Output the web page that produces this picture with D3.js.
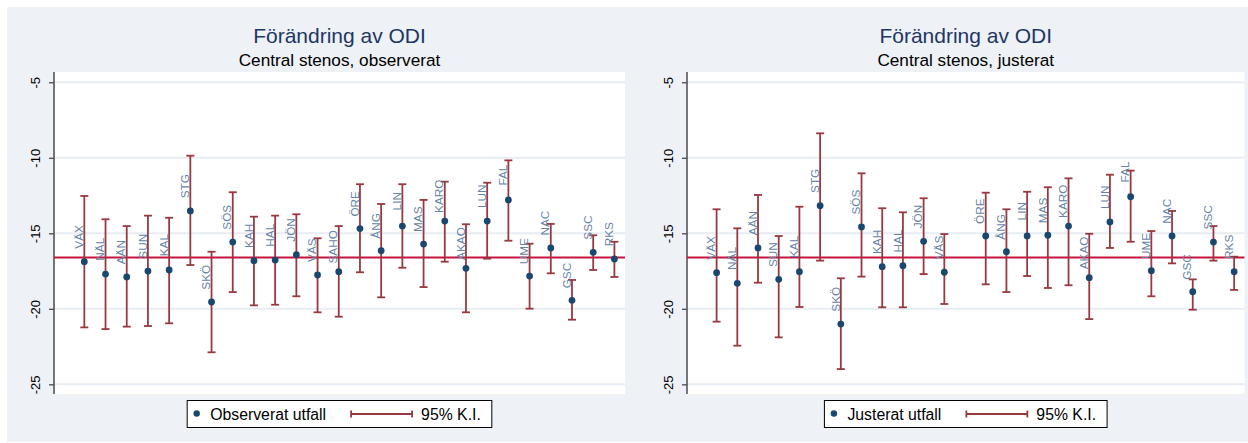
<!DOCTYPE html>
<html>
<head>
<meta charset="utf-8">
<script src="https://cdn.jsdelivr.net/npm/d3@7"></script>
<style>
  html, body { margin: 0; padding: 0; background: #ffffff; }
  svg { display: block; font-family: "Liberation Sans", Arial, sans-serif; }
</style>
</head>
<body>
<svg id="chart" width="1248" height="443"></svg>
<script>
// Units (sjukhus) along the x axis
const categories = ["VÄX","NÄL","AÄN","SUN","KAL","STG","SKÖ","SÖS","KAH","HAL","JÖN","VÄS","SAHO",
  "ÖRE","ÅNG","LIN","MAS","KARO","AKAO","LUN","FAL","UME","NAC","GSC","SSC","RKS"];

// Observerat utfall with 95% K.I.
const observed     = [-16.88,-17.70,-17.89,-17.50,-17.43,-13.52,-19.55,-15.58,-16.81,-16.77,-16.42,-17.76,-17.54,
  -14.69,-16.15,-14.52,-15.71,-14.19,-17.32,-14.19,-12.79,-17.83,-15.97,-19.44,-16.26,-16.70];
const observedLow  = [-21.23,-21.34,-21.18,-21.14,-20.96,-17.10,-22.88,-18.89,-19.77,-19.73,-19.17,-20.23,-20.52,
  -17.58,-19.24,-17.28,-18.56,-16.88,-20.23,-16.68,-15.49,-19.99,-17.65,-20.72,-17.43,-17.89];
const observedHigh = [-12.53,-14.07,-14.52,-13.83,-13.97,-9.86,-16.22,-12.28,-13.90,-13.83,-13.74,-15.33,-14.52,
  -11.75,-13.06,-11.75,-12.79,-11.58,-14.40,-11.65,-10.17,-15.69,-14.38,-18.09,-15.13,-15.56];

// Justerat utfall with 95% K.I. (SAHO saknas)
const adjusted     = [-17.61,-18.31,-15.97,-18.05,-17.54,-13.17,-21.01,-14.58,-17.21,-17.15,-15.53,-17.58,null,
  -15.18,-16.22,-15.18,-15.13,-14.52,-17.94,-14.25,-12.58,-17.48,-15.18,-18.87,-15.58,-17.54];
const adjustedLow  = [-20.85,-22.44,-18.27,-21.89,-19.88,-16.81,-23.99,-17.87,-19.90,-19.90,-17.70,-19.68,null,
  -18.38,-18.89,-17.83,-18.62,-18.44,-20.68,-15.97,-15.56,-19.17,-16.99,-20.06,-16.81,-18.75];
const adjustedHigh = [-13.41,-14.67,-12.46,-15.18,-13.24,-8.38,-17.98,-11.03,-13.34,-13.61,-12.68,-15.05,null,
  -12.31,-13.41,-12.25,-11.95,-11.36,-15.03,-11.12,-10.85,-14.85,-13.52,-18.05,-14.52,-16.55];

// Riksgenomsnitt (reference line)
const referenceValue = -16.6;

const yTicks = [-5, -10, -15, -20, -25];

const COLORS = {
  background: "#eef1f6",
  grid: "#e7edf3",
  axis: "#4a4a4a",
  marker: "#1a476f",
  ci: "#99393f",
  ref: "#c8143c",
  label: "#6384a8",
  title: "#1e3764"
};

const svg = d3.select("#chart");

// outer graph background
svg.append("rect")
  .attr("x", 7).attr("y", 7)
  .attr("width", 1241).attr("height", 435)
  .attr("fill", COLORS.background);

function drawPanel(opts) {
  const { left, right, top, bottom, title, subtitle, values, low, high, legendLabel } = opts;
  const g = svg.append("g");

  const x = d3.scaleLinear().domain([-0.43, 26.5]).range([left, right]);
  const y = d3.scaleLinear().domain([-25.64, -4.32]).range([bottom, top]);

  // plot region
  g.append("rect")
    .attr("x", left).attr("y", top)
    .attr("width", right - left).attr("height", bottom - top)
    .attr("fill", "#ffffff");

  // grid lines
  g.append("g").selectAll("line").data(yTicks).join("line")
    .attr("x1", left).attr("x2", right)
    .attr("y1", d => y(d)).attr("y2", d => y(d))
    .attr("stroke", COLORS.grid).attr("stroke-width", 2);

  // y axis
  const axis = d3.axisLeft(y).tickValues(yTicks).tickSize(5).tickPadding(0).tickFormat(d3.format("d"));
  const ax = g.append("g").attr("transform", `translate(${left},0)`).call(axis);
  ax.select(".domain").remove();
  ax.selectAll(".tick line").attr("stroke", COLORS.axis).attr("stroke-width", 1.3);
  ax.selectAll(".tick text")
    .attr("x", 0).attr("y", 0).attr("dy", null)
    .attr("transform", "translate(-14.5,0) rotate(-90)")
    .attr("text-anchor", "middle")
    .attr("fill", "#000")
    .style("font-size", "13px")
    .style("font-family", "'Liberation Sans', Arial, sans-serif")
    .text(d => String(d));
  g.append("line")
    .attr("x1", left).attr("x2", left)
    .attr("y1", top).attr("y2", bottom)
    .attr("stroke", COLORS.axis).attr("stroke-width", 1.5);

  // titles
  const cx = (left + right) / 2;
  g.append("text")
    .attr("x", cx).attr("y", 43.3)
    .attr("text-anchor", "middle")
    .attr("fill", COLORS.title)
    .style("font-size", "21px")
    .text(title);
  g.append("text")
    .attr("x", cx).attr("y", 65.5)
    .attr("text-anchor", "middle")
    .attr("fill", "#000")
    .style("font-size", "17.2px")
    .text(subtitle);

  const rows = categories.map((c, i) => ({
    name: c, pos: i + 1, v: values[i], lo: low[i], hi: high[i]
  })).filter(d => d.v !== null);

  // reference line
  g.append("line")
    .attr("x1", left).attr("x2", right)
    .attr("y1", y(referenceValue)).attr("y2", y(referenceValue))
    .attr("stroke", COLORS.ref).attr("stroke-width", 2);

  // confidence intervals
  const capW = 4;
  const ci = g.append("g").attr("stroke", COLORS.ci).attr("stroke-width", 1.8).attr("fill", "none");
  ci.selectAll("line.v").data(rows).join("line").attr("class", "v")
    .attr("x1", d => x(d.pos)).attr("x2", d => x(d.pos))
    .attr("y1", d => y(d.lo)).attr("y2", d => y(d.hi));
  ci.selectAll("line.h").data(rows).join("line").attr("class", "h")
    .attr("x1", d => x(d.pos) - capW).attr("x2", d => x(d.pos) + capW)
    .attr("y1", d => y(d.hi)).attr("y2", d => y(d.hi));
  ci.selectAll("line.l").data(rows).join("line").attr("class", "l")
    .attr("x1", d => x(d.pos) - capW).attr("x2", d => x(d.pos) + capW)
    .attr("y1", d => y(d.lo)).attr("y2", d => y(d.lo));

  // point estimates
  g.append("g").selectAll("circle").data(rows).join("circle")
    .attr("cx", d => x(d.pos)).attr("cy", d => y(d.v))
    .attr("r", 3.4)
    .attr("fill", COLORS.marker);

  // unit labels
  g.append("g").selectAll("text").data(rows).join("text")
    .attr("transform", d => `translate(${x(d.pos) - 1.3},${y(d.v) - 24.8}) rotate(-90)`)
    .attr("text-anchor", "middle")
    .attr("fill", COLORS.label)
    .style("font-size", "11.8px")
    .text(d => d.name);

  // legend
  const lg = g.append("g");
  const lbl1 = lg.append("text").attr("y", 419.5).style("font-size", "15.8px").attr("fill", "#000").text(legendLabel);
  const lbl2 = lg.append("text").attr("y", 419.5).style("font-size", "15.8px").attr("fill", "#000").text("95% K.I.");
  const w1 = lbl1.node().getComputedTextLength();
  const w2 = lbl2.node().getComputedTextLength();
  const padL = 9.5, keyGap = 13.5, midGap = 25, lineLen = 61, textGap = 9, padR = 11;
  const boxW = padL + keyGap + w1 + midGap + lineLen + textGap + w2 + padR;
  const bx = cx - boxW / 2;
  lg.insert("rect", ":first-child")
    .attr("x", bx).attr("y", 400.5)
    .attr("width", boxW).attr("height", 27)
    .attr("fill", "#ffffff").attr("stroke", "#000").attr("stroke-width", 1);
  lg.append("circle").attr("cx", bx + padL).attr("cy", 413.5).attr("r", 3.2).attr("fill", COLORS.marker);
  lbl1.attr("x", bx + padL + keyGap);
  const lx0 = bx + padL + keyGap + w1 + midGap;
  const key = lg.append("g").attr("stroke", COLORS.ci).attr("stroke-width", 1.8);
  key.append("line").attr("x1", lx0).attr("x2", lx0 + lineLen).attr("y1", 414).attr("y2", 414);
  key.append("line").attr("x1", lx0).attr("x2", lx0).attr("y1", 410.5).attr("y2", 417.5);
  key.append("line").attr("x1", lx0 + lineLen).attr("x2", lx0 + lineLen).attr("y1", 410.5).attr("y2", 417.5);
  lbl2.attr("x", lx0 + lineLen + textGap);
}

drawPanel({
  left: 54, right: 625, top: 72, bottom: 394,
  title: "Förändring av ODI",
  subtitle: "Central stenos, observerat",
  values: observed, low: observedLow, high: observedHigh,
  legendLabel: "Observerat utfall"
});

drawPanel({
  left: 687, right: 1244.5, top: 72, bottom: 394,
  title: "Förändring av ODI",
  subtitle: "Central stenos, justerat",
  values: adjusted, low: adjustedLow, high: adjustedHigh,
  legendLabel: "Justerat utfall"
});
</script>
</body>
</html>
